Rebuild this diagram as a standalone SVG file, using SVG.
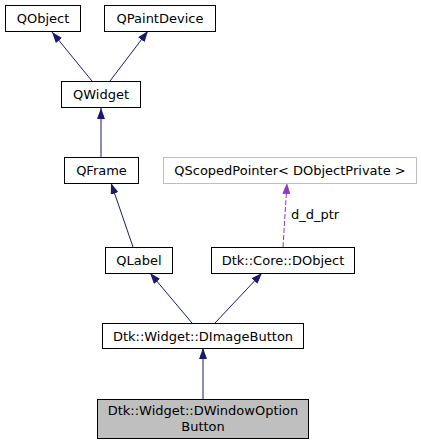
<svg xmlns="http://www.w3.org/2000/svg" width="421" height="445" viewBox="0 0 421 445">
<style>
.box rect{fill:#ffffff;stroke:#000000;stroke-width:1}
.box.gray rect{stroke:#bfbfbf}
.box.cur rect{fill:#bfbfbf}
text{font-family:"DejaVu Sans",sans-serif;font-size:13px;fill:#000000;text-anchor:middle}
.edge{stroke:#191970;stroke-width:1;fill:none;marker-end:url(#ah)}
.dash{stroke:#9a32cd;stroke-width:1;fill:none;stroke-dasharray:5,2;marker-end:url(#ahp)}
</style>
<defs>
<marker id="ah" markerUnits="userSpaceOnUse" markerWidth="11" markerHeight="8" refX="11" refY="4" orient="auto" viewBox="0 0 11 8"><path d="M0,0 L11,4 L0,8 z" fill="#191970"/></marker>
<marker id="ahp" markerUnits="userSpaceOnUse" markerWidth="11" markerHeight="8" refX="11" refY="4" orient="auto" viewBox="0 0 11 8"><path d="M0,0 L11,4 L0,8 z" fill="#9a32cd"/></marker>
</defs>
<rect width="421" height="445" fill="#ffffff"/>
<g id="connectors">
<path class="edge" d="M92,81 L52,32"/>
<path class="edge" d="M110,81 L148,31"/>
<path class="edge" d="M101,158 L101,108"/>
<path class="edge" d="M133,247 L111,183"/>
<path class="edge" d="M192,323 L150,273"/>
<path class="edge" d="M215,323 L262,273"/>
<path class="edge" d="M203,399 L203,348"/>
<path class="dash" d="M283,247 L287,183"/>
<text x="291" y="219" style="text-anchor:start">d_d_ptr</text>
</g>
<g id="QObject" class="box"><rect x="5.5" y="5.5" width="75" height="26"/><text x="43" y="23">QObject</text></g>
<g id="QPaintDevice" class="box"><rect x="104.5" y="5.5" width="111" height="26"/><text x="160" y="23">QPaintDevice</text></g>
<g id="QWidget" class="box"><rect x="61.5" y="81.5" width="79" height="26"/><text x="101" y="99">QWidget</text></g>
<g id="QFrame" class="box"><rect x="64.5" y="157.5" width="74" height="26"/><text x="101.5" y="175">QFrame</text></g>
<g id="QScopedPointer" class="box gray"><rect x="163.5" y="157.5" width="253" height="26"/><text x="290" y="175">QScopedPointer&lt; DObjectPrivate &gt;</text></g>
<g id="QLabel" class="box"><rect x="105.5" y="247.5" width="67" height="26"/><text x="139" y="265">QLabel</text></g>
<g id="DObject" class="box"><rect x="211.5" y="247.5" width="143" height="26"/><text x="283" y="265">Dtk::Core::DObject</text></g>
<g id="DImageButton" class="box"><rect x="102.5" y="323.5" width="201" height="25"/><text x="203" y="341">Dtk::Widget::DImageButton</text></g>
<g id="DWindowOptionButton" class="box cur"><rect x="97.5" y="399.5" width="211" height="39"/><text x="203" y="415">Dtk::Widget::DWindowOption</text><text x="203" y="431">Button</text></g>
</svg>
